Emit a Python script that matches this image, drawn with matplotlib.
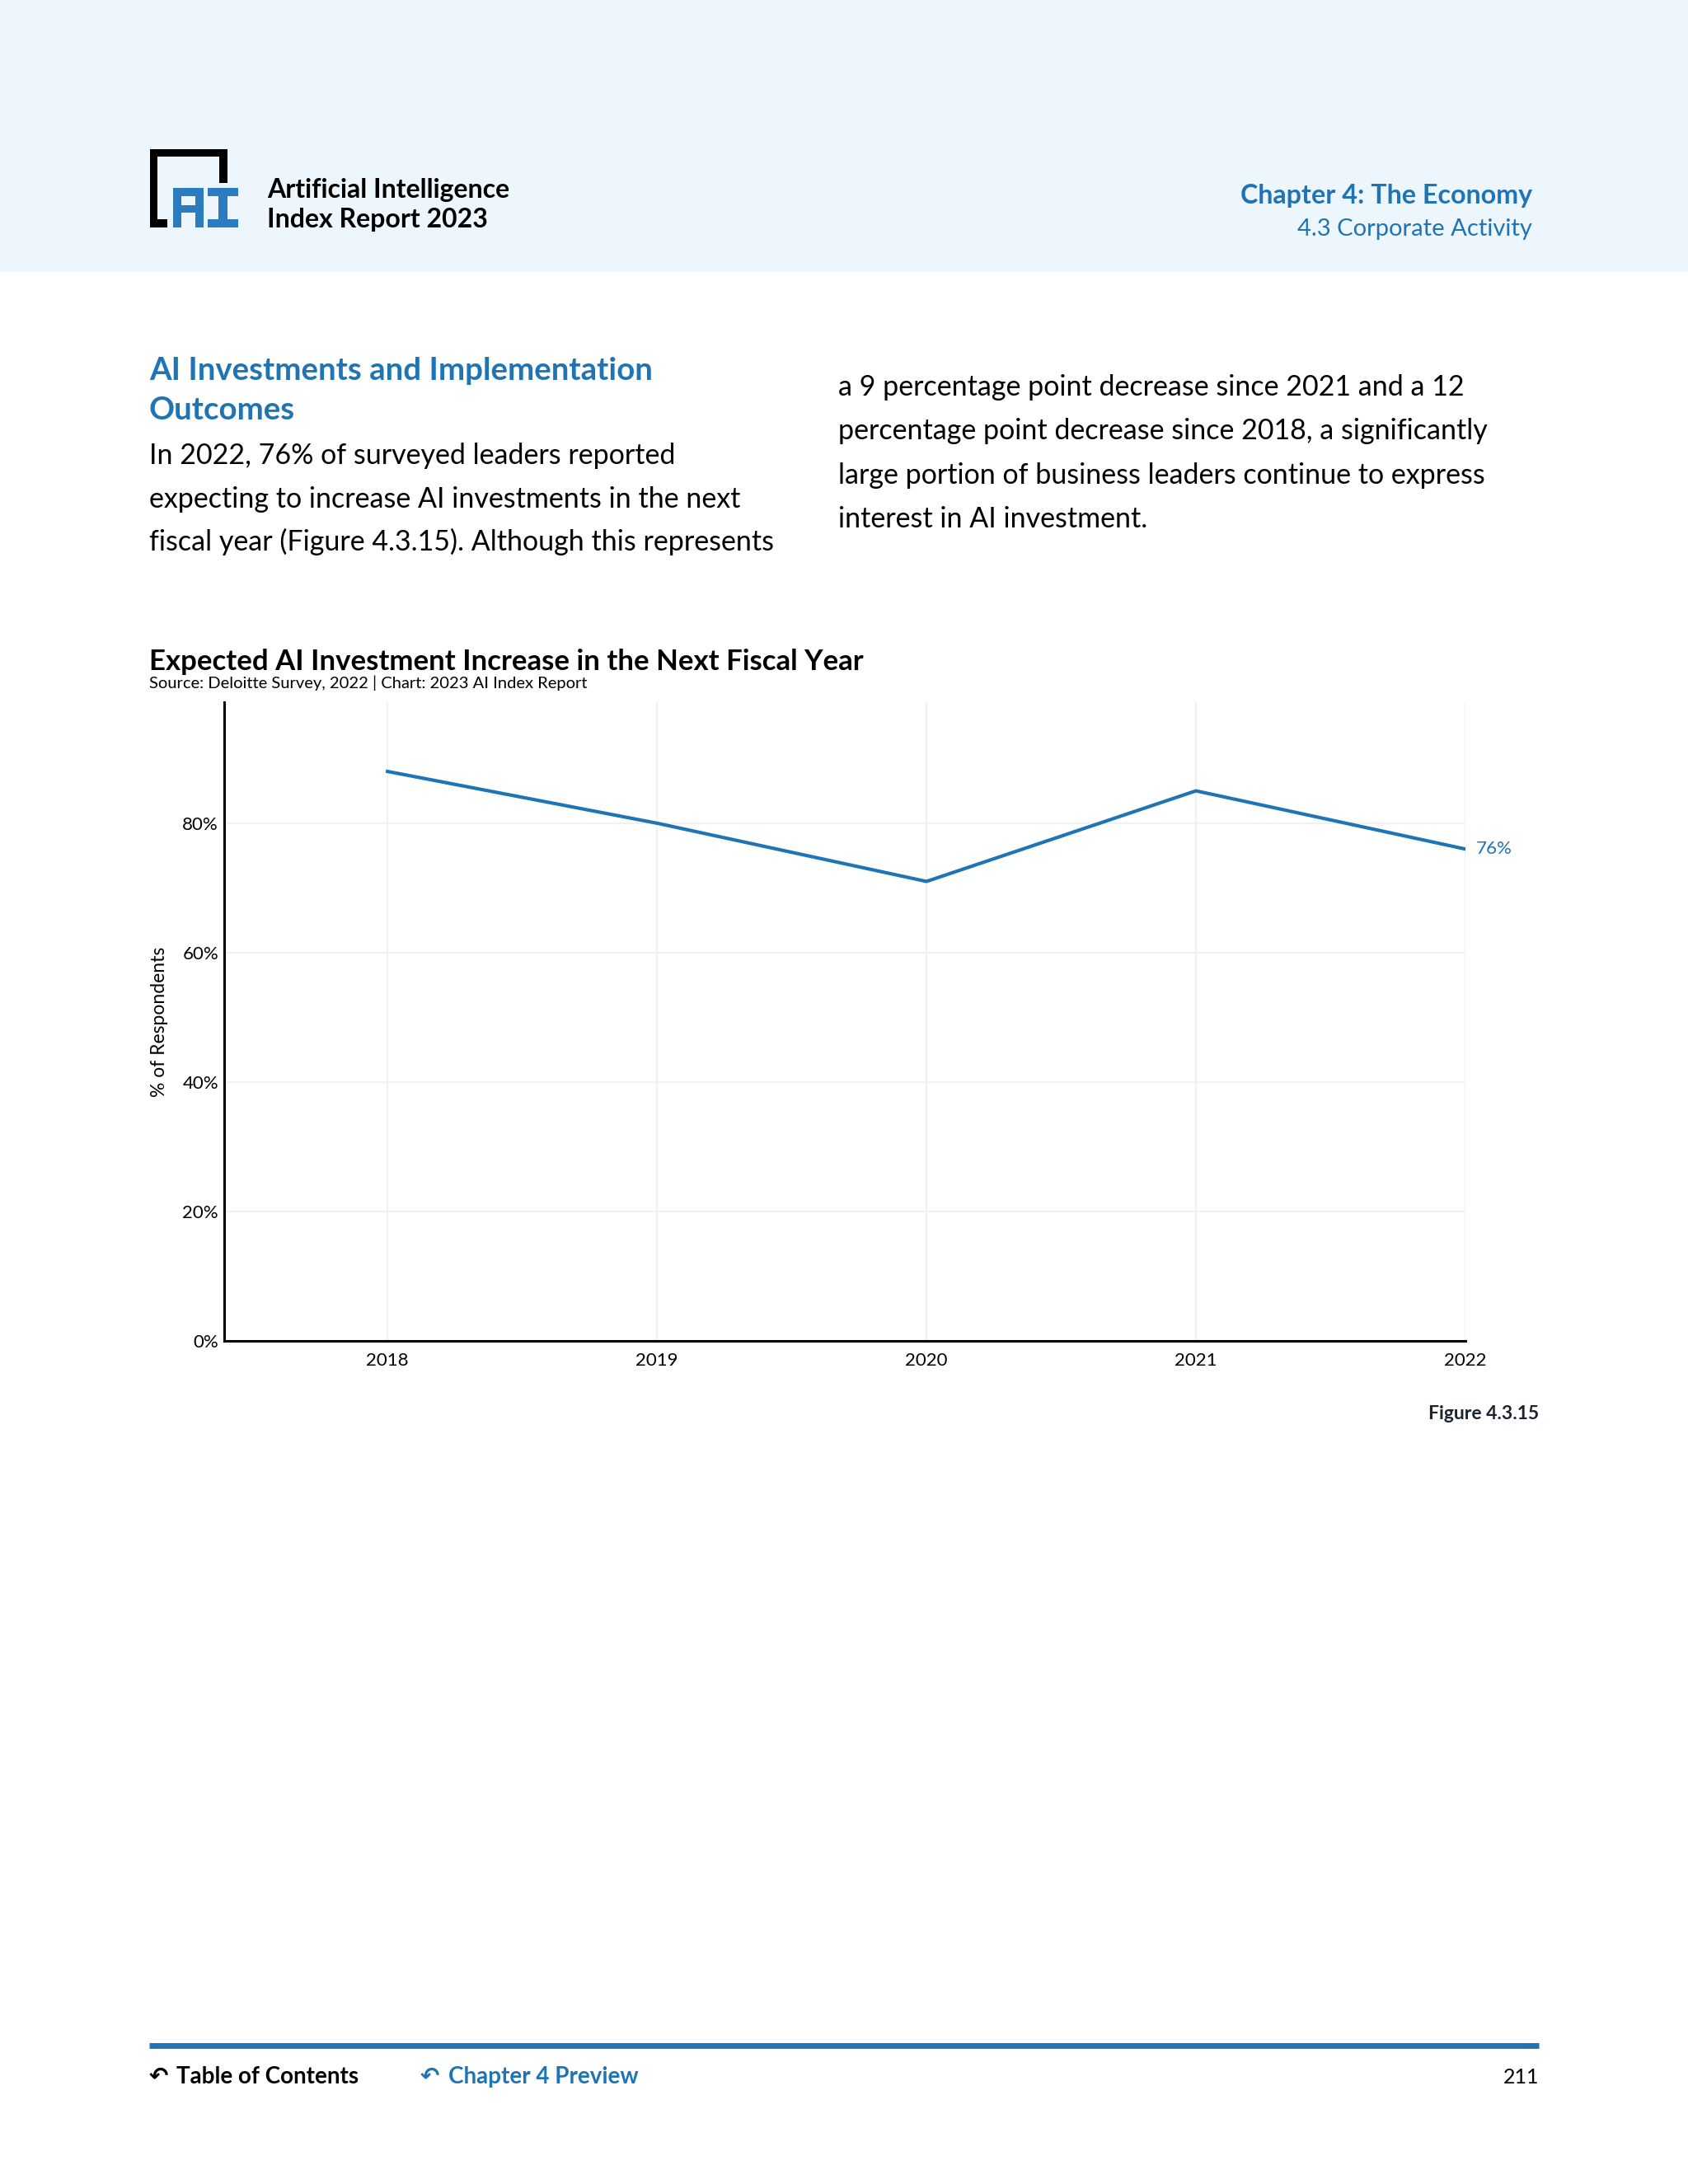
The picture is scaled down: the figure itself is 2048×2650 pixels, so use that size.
import matplotlib.pyplot as plt
from matplotlib.patches import Rectangle

# page size in pixels (saved at dpi 100)
W, H = 2048, 2650

# chart data
years = [2018, 2019, 2020, 2021, 2022]
pct = [88, 80, 71, 85, 76]
yticks = [0, 20, 40, 60, 80]
ytick_labels = ['0%', '20%', '40%', '60%', '80%']
xtick_labels = ['2018', '2019', '2020', '2021', '2022']

# page text
left_lines = ['In 2022, 76% of surveyed leaders reported',
              'expecting to increase AI investments in the next',
              'fiscal year (Figure 4.3.15). Although this represents']
right_lines = ['a 9 percentage point decrease since 2021 and a 12',
               'percentage point decrease since 2018, a significantly',
               'large portion of business leaders continue to express',
               'interest in AI investment.']

blue = '#1f74b6'
logo_blue = '#2a7bc0'

plt.rcParams['font.family'] = ['Lato', 'DejaVu Sans']

fig = plt.figure(figsize=(W / 100, H / 100), dpi=100)

# background axes in pixel coordinates (y goes down)
bg = fig.add_axes([0, 0, 1, 1])
bg.set_xlim(0, W)
bg.set_ylim(H, 0)
bg.axis('off')

# header band
bg.add_patch(Rectangle((0, 0), W, 330, color='#eef6fd', lw=0))

# logo: black bracket
for (x0, y0, x1, y1) in [(182, 181, 191, 276), (182, 181, 276, 190),
                         (266, 181, 276, 222), (182, 266, 203, 276)]:
    bg.add_patch(Rectangle((x0, y0), x1 - x0, y1 - y0, color='black', lw=0))
# logo: blue "AI"
for (x0, y0, x1, y1) in [(210, 228, 220, 276), (237, 228, 247, 276),
                         (210, 228, 247, 238), (210, 249, 247, 258),
                         (252, 228, 289, 238), (252, 266, 289, 276),
                         (265, 228, 276, 276)]:
    bg.add_patch(Rectangle((x0, y0), x1 - x0, y1 - y0, color=logo_blue, lw=0))

bg.text(324, 240, 'Artificial Intelligence', fontsize=23, fontweight='bold', va='baseline')
bg.text(324, 276, 'Index Report 2023', fontsize=23, fontweight='bold', va='baseline')
bg.text(1859, 247, 'Chapter 4: The Economy', fontsize=23.2, fontweight='bold',
        color=blue, ha='right', va='baseline')
bg.text(1859, 286, '4.3 Corporate Activity', fontsize=21, color=blue,
        ha='right', va='baseline')

# section heading and body text
bg.text(181, 461, 'AI Investments and Implementation', fontsize=27.6, fontweight='bold',
        color=blue, va='baseline')
bg.text(181, 509, 'Outcomes', fontsize=27.6, fontweight='bold', color=blue, va='baseline')
for i, line in enumerate(left_lines):
    bg.text(181, 563 + i * 52.5, line, fontsize=24.5, va='baseline')
for i, line in enumerate(right_lines):
    bg.text(1017, 480 + i * 53.3, line, fontsize=24.5, va='baseline')

# chart title
bg.text(181, 813, 'Expected AI Investment Increase in the Next Fiscal Year',
        fontsize=25, fontweight='bold', va='baseline')
bg.text(181, 835, 'Source: Deloitte Survey, 2022 | Chart: 2023 AI Index Report',
        fontsize=14.5, va='baseline')

# figure label
bg.text(1867, 1722, 'Figure 4.3.15', fontsize=16.5, fontweight='bold',
        color='#1a2433', ha='right', va='baseline')

# footer
bg.plot([181, 1867], [2482, 2482], color=blue, lw=5, solid_capstyle='butt')
bg.text(181, 2528, '\u21b6', fontsize=20, fontweight='bold', va='baseline',
        family=['DejaVu Sans'])
bg.text(214, 2528, 'Table of Contents', fontsize=20, fontweight='bold', va='baseline')
bg.text(510, 2528, '\u21b6', fontsize=20, fontweight='bold', color=blue, va='baseline',
        family=['DejaVu Sans'])
bg.text(544, 2528, 'Chapter 4 Preview', fontsize=20, fontweight='bold', color=blue,
        va='baseline')
bg.text(1867, 2528, '211', fontsize=18, ha='right', va='baseline')

# the chart
left, right, top, bottom = 272, 1778, 852, 1627
ax = fig.add_axes([left / W, 1 - bottom / H, (right - left) / W, (bottom - top) / H])
ax.patch.set_alpha(0)

ax.plot(years, pct, color=blue, lw=3)
ax.annotate('76%', xy=(years[-1], pct[-1]), xytext=(9, 0), textcoords='offset points',
            ha='left', va='center', fontsize=16, color=blue)

ax.set_xlim(2017.394, 2022)
ax.set_ylim(0, 98.7)
ax.set_xticks(years)
ax.set_xticklabels(xtick_labels)
ax.set_yticks(yticks)
ax.set_yticklabels(ytick_labels)
ax.tick_params(length=0, labelsize=16)
ax.tick_params(axis='y', pad=5)
ax.tick_params(axis='x', pad=10)
ax.grid(True, color='#f1f1f1', lw=1.5)
ax.set_axisbelow(True)

ax.spines['top'].set_visible(False)
ax.spines['right'].set_visible(False)
ax.spines['left'].set_linewidth(2.2)
ax.spines['bottom'].set_linewidth(2.2)

ax.set_ylabel('% of Respondents', fontsize=16.5)
ax.yaxis.set_label_coords(-0.045, 0.5)

fig.savefig('out.png', dpi=100)
